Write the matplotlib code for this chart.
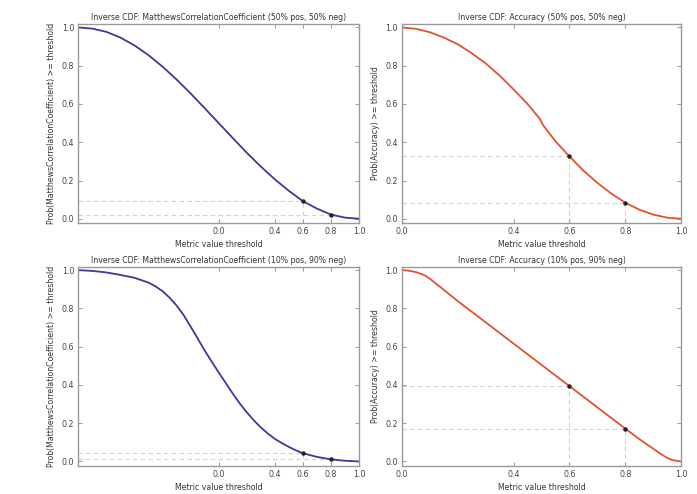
import matplotlib
matplotlib.use("Agg")
import matplotlib.pyplot as plt

# === DATA ===
mcc_x = [-1.0, -0.9, -0.8, -0.7, -0.6, -0.5, -0.4, -0.3, -0.2, -0.1, 0.0,
         0.1, 0.2, 0.3, 0.4, 0.5, 0.6, 0.7, 0.8, 0.9, 1.0]
mcc_50 = [1.0, 0.994, 0.977, 0.947, 0.906, 0.855, 0.795, 0.728, 0.655, 0.578, 0.5,
          0.422, 0.345, 0.273, 0.206, 0.146, 0.092, 0.053, 0.022, 0.006, 0.0]

mcc_x10 = [-1.0, -0.9, -0.8, -0.7, -0.6, -0.5, -0.45, -0.4, -0.35, -0.3, -0.25, -0.2,
           -0.15, -0.1, -0.05, 0.0, 0.05, 0.1, 0.15, 0.2, 0.25, 0.3, 0.35, 0.4, 0.45,
           0.5, 0.55, 0.6, 0.7, 0.8, 0.9, 1.0]
mcc_10 = [1.0, 0.996, 0.988, 0.975, 0.96, 0.935, 0.915, 0.89, 0.856, 0.815, 0.765, 0.705,
          0.643, 0.58, 0.522, 0.465, 0.41, 0.355, 0.303, 0.257, 0.215, 0.178, 0.146, 0.118,
          0.096, 0.076, 0.058, 0.043, 0.024, 0.011, 0.004, 0.0]

acc_x50 = [0.0, 0.05, 0.1, 0.15, 0.2, 0.25, 0.3, 0.35, 0.4, 0.45, 0.495, 0.505,
           0.55, 0.6, 0.65, 0.7, 0.75, 0.8, 0.85, 0.9, 0.95, 1.0]
acc_50 = [1.0, 0.993, 0.975, 0.947, 0.912, 0.865, 0.812, 0.748, 0.676, 0.600, 0.52, 0.49,
          0.405, 0.326, 0.252, 0.188, 0.132, 0.084, 0.048, 0.022, 0.006, 0.0]

acc_x10 = [0.0, 0.02, 0.05, 0.08, 0.1, 0.2, 0.3, 0.4, 0.5, 0.6, 0.7, 0.8,
           0.85, 0.9, 0.93, 0.95, 0.97, 1.0]
acc_10 = [1.0, 0.998, 0.99, 0.974, 0.955, 0.838, 0.727, 0.616, 0.505, 0.394, 0.283, 0.172,
          0.117, 0.067, 0.037, 0.019, 0.007, 0.0]

thresholds = [0.6, 0.8]
mcc_50_at = [0.092, 0.022]
mcc_10_at = [0.043, 0.011]
acc_50_at = [0.326, 0.084]
acc_10_at = [0.394, 0.172]

xticks = [0.0, 0.4, 0.6, 0.8, 1.0]
yticks = [0.0, 0.2, 0.4, 0.6, 0.8, 1.0]

BLUE = "#3c3a98"
RED = "#e5512f"
SPINE = "#9a9a9a"
FS = 5.6

panels = [
    # (rect, x, y, marks, colour, metric, split, xmin)
    ([0.1124, 0.5486, 0.4028, 0.4028], mcc_x, mcc_50, mcc_50_at, BLUE,
     "MatthewsCorrelationCoefficient", "50% pos, 50% neg", -1.0),
    ([0.5768, 0.5486, 0.4003, 0.4028], acc_x50, acc_50, acc_50_at, RED,
     "Accuracy", "50% pos, 50% neg", 0.0),
    ([0.1124, 0.0573, 0.4028, 0.4028], mcc_x10, mcc_10, mcc_10_at, BLUE,
     "MatthewsCorrelationCoefficient", "10% pos, 90% neg", -1.0),
    ([0.5768, 0.0573, 0.4003, 0.4028], acc_x10, acc_10, acc_10_at, RED,
     "Accuracy", "10% pos, 90% neg", 0.0),
]

fig = plt.figure(figsize=(6.97, 4.94), dpi=100)

for rect, xs, ys, marks, col, metric, split, xmin in panels:
    ax = fig.add_axes(rect)
    ylo, yhi = -0.022, 1.018
    for t, v in zip(thresholds, marks):
        ax.plot([xmin, t], [v, v], color="#d2d2d2", lw=0.8, ls=(0, (4, 3)), zorder=1)
        ax.plot([t, t], [ylo, v], color="#d2d2d2", lw=0.8, ls=(0, (4, 3)), zorder=1)
    ax.plot(xs, ys, color=col, lw=1.3, zorder=2)
    ax.plot(thresholds, marks, "o", color="#2a2020", ms=2.2, zorder=3)

    ax.set_xlim(xmin, 1.0)
    ax.set_ylim(ylo, yhi)
    ax.set_xticks(xticks)
    ax.set_yticks(yticks)
    ax.set_xticklabels([f"{t:.1f}" for t in xticks])
    ax.set_yticklabels([f"{t:.1f}" for t in yticks])
    ax.tick_params(direction="in", top=True, right=True, length=3, width=0.7,
                   color=SPINE, labelsize=FS + 0.1, labelcolor="#444444", pad=3)
    for s in ax.spines.values():
        s.set_color(SPINE)
        s.set_linewidth(1.0)

    ax.set_title(f"Inverse CDF: {metric} ({split})", fontsize=FS, color="#333333", pad=3)
    ax.set_xlabel("Metric value threshold", fontsize=FS, color="#333333", labelpad=3)
    ax.set_ylabel(f"Prob({metric}) >= threshold", fontsize=FS, color="#333333", labelpad=4)

fig.savefig("out.png", dpi=100)
